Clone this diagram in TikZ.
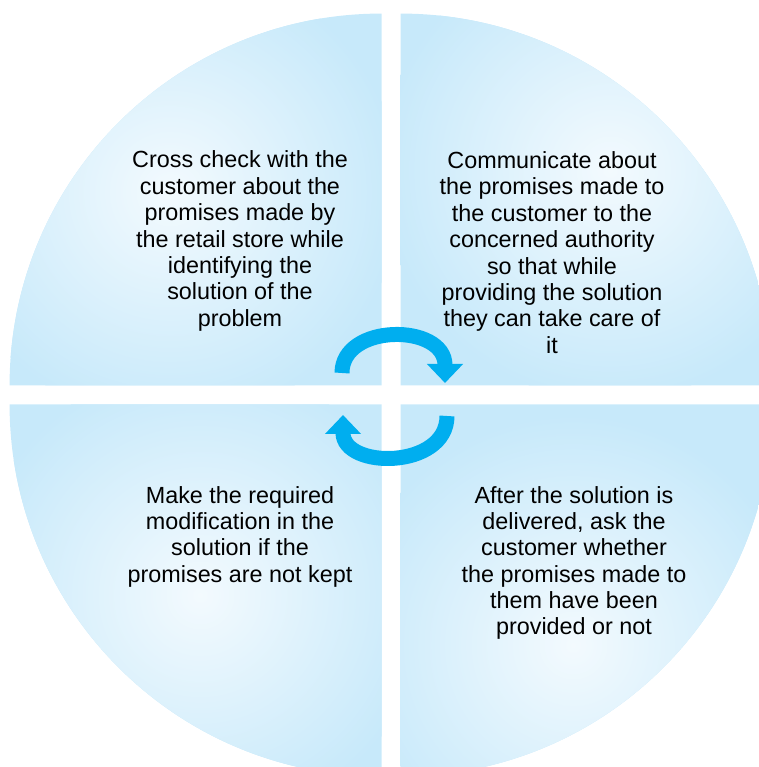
\documentclass[tikz,border=0pt]{standalone}
\usepackage{fontspec}
\setmainfont{Liberation Sans}
\usetikzlibrary{arrows.meta}
\definecolor{quadblue}{RGB}{199,233,250}
\definecolor{quadlight}{RGB}{243,250,254}
\definecolor{cyclecyan}{RGB}{0,174,239}

\begin{document}
\begin{tikzpicture}[
x=0.02cm, y=0.02cm,
quadtext/.style={align=center, font=\fontsize{13.3}{15}\selectfont, text=black},
cyclearrow/.style={-{Triangle[width=0.7cm, length=0.38cm]}, line width=0.3cm, cyclecyan}
]
\useasboundingbox (0,0) rectangle (759,767);
\clip (0,0) rectangle (759,767);
\foreach \qx/\qy/\qa/\gx/\gy in {381.5/381.5/90/170/575, 400.5/381.5/0/610/597, 400.5/362.5/-90/573/122, 381.5/362.5/180/200/172}{
  \begin{scope}
    \clip (\qx,\qy) -- ++(\qa:7.44cm) arc[start angle=\qa, end angle=\qa+90, radius=7.44cm] -- cycle;
    \fill[quadblue] (0,0) rectangle (759,767);
    \shade[inner color=quadlight, outer color=quadblue] (\gx,\gy) circle (4.6cm);
  \end{scope}
}
\node[quadtext] (crossCheck) at (240,526) {Cross check with the\\customer about the\\promises made by\\the retail store while\\identifying the\\solution of the\\problem};
\node[quadtext] (communicate) at (552,514.5) {Communicate about\\the promises made to\\the customer to the\\concerned authority\\so that while\\providing the solution\\they can take care of\\it};
\node[quadtext] (askCustomer) at (574,204) {After the solution is\\delivered, ask the\\customer whether\\the promises made to\\them have been\\provided or not};
\node[quadtext] (modify) at (240,230.5) {Make the required\\modification in the\\solution if the\\promises are not kept};
\coordinate (topTail) at (342,394);
\coordinate (topTip) at (445,384);
\coordinate (botTail) at (447,351);
\coordinate (botTip) at (343,352);
\draw[cyclearrow] (topTail) .. controls (342,444) and (445,444) .. (topTip);
\draw[cyclearrow] (botTail) .. controls (447,297.5) and (343,297.5) .. (botTip);
\end{tikzpicture}
\end{document}
